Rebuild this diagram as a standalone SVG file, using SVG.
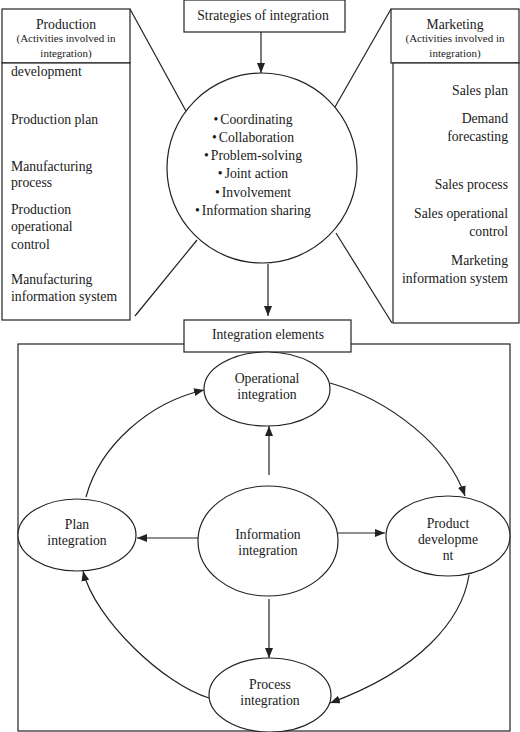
<svg xmlns="http://www.w3.org/2000/svg" width="520" height="732" viewBox="0 0 520 732">
<style>
  .box{fill:#fff;stroke:#222;stroke-width:1.2}
  .ln{fill:none;stroke:#222;stroke-width:1.2}
  .t{font-family:"Liberation Serif","Times New Roman",serif;font-size:13.7px;fill:#1a1a1a}
  .s{font-family:"Liberation Serif","Times New Roman",serif;font-size:11px;fill:#1a1a1a}
  .c{text-anchor:middle}
  .r{text-anchor:end}
</style>
<defs>
  <marker id="arr" markerWidth="10" markerHeight="8" refX="10" refY="4" orient="auto" markerUnits="userSpaceOnUse">
    <path d="M0,0 L10,4 L0,8 z" fill="#222"/>
  </marker>
</defs>
<rect x="0" y="0" width="520" height="732" fill="#fff"/>

<g id="outer-frame">
  <rect class="box" x="18" y="344" width="492" height="387"/>
</g>

<g id="connectors">
  <line class="ln" x1="130" y1="9" x2="198" y2="133"/>
  <line class="ln" x1="197" y1="240" x2="135" y2="316"/>
  <line class="ln" x1="391" y1="9" x2="335" y2="107"/>
  <line class="ln" x1="336" y1="233" x2="392" y2="323"/>
  <line class="ln" x1="261" y1="32" x2="261" y2="73" marker-end="url(#arr)"/>
  <line class="ln" x1="268" y1="264" x2="268" y2="316" marker-end="url(#arr)"/>
  <line class="ln" x1="269" y1="475" x2="269" y2="426" marker-end="url(#arr)"/>
  <line class="ln" x1="199" y1="538" x2="137" y2="538" marker-end="url(#arr)"/>
  <line class="ln" x1="338" y1="533" x2="385" y2="533" marker-end="url(#arr)"/>
  <line class="ln" x1="269" y1="599" x2="269" y2="658" marker-end="url(#arr)"/>
  <path class="ln" d="M86,497 C100,445 150,402 204,390" marker-end="url(#arr)"/>
  <path class="ln" d="M330,383 C390,400 448,446 465,496" marker-end="url(#arr)"/>
  <path class="ln" d="M469,575 C462,620 420,670 330,703" marker-end="url(#arr)"/>
  <path class="ln" d="M209,698 C165,685 95,620 83,571" marker-end="url(#arr)"/>
</g>

<g id="strategies">
  <rect class="box" x="184" y="0" width="161" height="32"/>
  <text class="t c" x="263" y="20">Strategies of integration</text>
</g>

<g id="strategies-circle">
  <circle class="box" cx="262" cy="168" r="95"/>
  <text class="t c" x="253" y="124">•<tspan dx="2">Coordinating</tspan></text>
  <text class="t c" x="253" y="142">•<tspan dx="2">Collaboration</tspan></text>
  <text class="t c" x="253" y="160">•<tspan dx="2">Problem-solving</tspan></text>
  <text class="t c" x="253" y="178">•<tspan dx="2">Joint action</tspan></text>
  <text class="t c" x="253" y="197">•<tspan dx="2">Involvement</tspan></text>
  <text class="t c" x="253" y="215">•<tspan dx="2">Information sharing</tspan></text>
</g>

<g id="production">
  <rect class="box" x="2" y="9" width="128" height="54"/>
  <rect class="box" x="2" y="63" width="128" height="257"/>
  <text class="t c" x="66" y="29">Production</text>
  <text class="s c" x="66" y="42">(Activities involved in</text>
  <text class="s c" x="66" y="57">integration)</text>
  <text class="t" x="11" y="76">development</text>
  <text class="t" x="11" y="124">Production plan</text>
  <text class="t" x="11" y="171">Manufacturing</text>
  <text class="t" x="11" y="187">process</text>
  <text class="t" x="11" y="214">Production</text>
  <text class="t" x="11" y="231">operational</text>
  <text class="t" x="11" y="249">control</text>
  <text class="t" x="11" y="284">Manufacturing</text>
  <text class="t" x="11" y="301">information system</text>
</g>

<g id="marketing">
  <rect class="box" x="391" y="9" width="128" height="54"/>
  <rect class="box" x="393" y="63" width="126" height="260"/>
  <text class="t c" x="455" y="29">Marketing</text>
  <text class="s c" x="455" y="42">(Activities involved in</text>
  <text class="s c" x="455" y="57">integration)</text>
  <text class="t r" x="508" y="95">Sales plan</text>
  <text class="t r" x="508" y="123">Demand</text>
  <text class="t r" x="508" y="141">forecasting</text>
  <text class="t r" x="508" y="189">Sales process</text>
  <text class="t r" x="508" y="218">Sales operational</text>
  <text class="t r" x="508" y="236">control</text>
  <text class="t r" x="508" y="265">Marketing</text>
  <text class="t r" x="508" y="283">information system</text>
</g>

<g id="integration-elements">
  <rect class="box" x="184" y="320" width="167" height="32"/>
  <text class="t c" x="268" y="339">Integration elements</text>
</g>

<g id="operational">
  <ellipse class="box" cx="267" cy="389" rx="63" ry="37"/>
  <text class="t c" x="267" y="383">Operational</text>
  <text class="t c" x="267" y="399">integration</text>
</g>

<g id="plan">
  <ellipse class="box" cx="77" cy="535" rx="59" ry="36"/>
  <text class="t c" x="77" y="529">Plan</text>
  <text class="t c" x="77" y="545">integration</text>
</g>

<g id="information">
  <ellipse class="box" cx="268" cy="541" rx="70" ry="55"/>
  <text class="t c" x="268" y="539">Information</text>
  <text class="t c" x="268" y="555">integration</text>
</g>

<g id="product">
  <ellipse class="box" cx="448" cy="536" rx="62" ry="40"/>
  <text class="t c" x="448" y="528">Product</text>
  <text class="t c" x="448" y="544">developme</text>
  <text class="t c" x="448" y="560">nt</text>
</g>

<g id="process">
  <ellipse class="box" cx="270" cy="695" rx="61" ry="37"/>
  <text class="t c" x="270" y="689">Process</text>
  <text class="t c" x="270" y="705">integration</text>
</g>
</svg>
